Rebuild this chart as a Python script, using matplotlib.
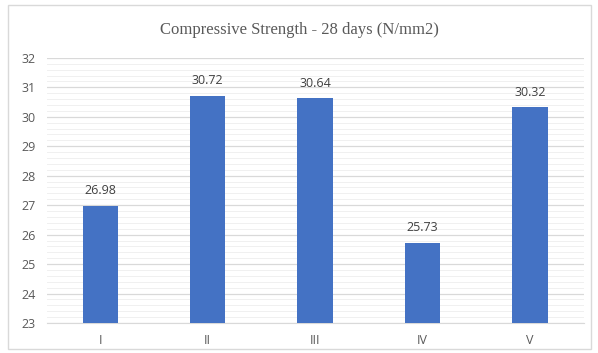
import matplotlib.pyplot as plt
from matplotlib.patches import Rectangle
from matplotlib.ticker import MultipleLocator

categories = ['I', 'II', 'III', 'IV', 'V']
strength = [26.98, 30.72, 30.64, 25.73, 30.32]

fig = plt.figure(figsize=(5.98, 3.53), dpi=100)
ax = fig.add_axes([0.078, 0.085, 0.898, 0.751])

x = range(len(categories))
bars = ax.bar(x, strength, width=0.33, color='#4472C4', zorder=3)

for b, v in zip(bars, strength):
    ax.annotate(f'{v:.2f}', (b.get_x() + b.get_width() / 2, v),
                xytext=(0, 6), textcoords='offset points',
                ha='center', va='bottom', fontsize=9, color='#404040',
                family='Open Sans')

ax.set_ylim(23, 32)
ax.set_xlim(-0.5, 4.5)
ax.yaxis.set_major_locator(MultipleLocator(1))
ax.yaxis.set_minor_locator(MultipleLocator(0.2))
ax.grid(axis='y', which='major', color='#D9D9D9', linewidth=0.9, zorder=0)
ax.grid(axis='y', which='minor', color='#F0F0F0', linewidth=0.7, zorder=0)
ax.set_xticks(list(x))
ax.set_xticklabels(categories)
ax.tick_params(axis='both', which='both', length=0, labelsize=9,
               labelcolor='#595959', pad=8)
for lab in ax.get_xticklabels() + ax.get_yticklabels():
    lab.set_family('Open Sans')
for s in ['top', 'right', 'left']:
    ax.spines[s].set_visible(False)
ax.spines['bottom'].set_color('#D9D9D9')

fig.text(0.5, 0.915, 'Compressive Strength - 28 days (N/mm2)',
         ha='center', va='center', fontsize=12, color='#595959',
         family='Liberation Serif')

fig.patches.append(Rectangle((0.013, 0.012), 0.975, 0.975,
                             transform=fig.transFigure, fill=False,
                             edgecolor='#D9D9D9', linewidth=1))

fig.savefig('out.png', dpi=100)
